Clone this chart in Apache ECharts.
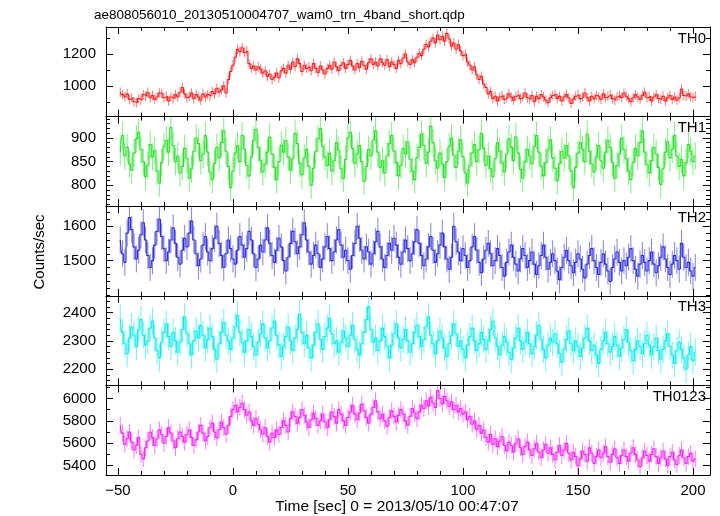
<!DOCTYPE html>
<html>
<head>
<meta charset="utf-8">
<script src="https://cdn.jsdelivr.net/npm/echarts@6/dist/echarts.min.js"></script>
<style>html,body{margin:0;padding:0;background:#fff}#c{width:720px;height:516px}</style>
</head>
<body>
<div id="c"></div>
<script>
// ---- data (1 s bins, first bin centre at t = -49 s) ----
const binStart = -49;
const binWidth = 1;
const bandNames = ['TH0', 'TH1', 'TH2', 'TH3', 'TH0123'];
const th0 = [
960,945,930,950,915,925,900,895,920,910,
945,935,960,925,940,915,930,955,950,925,
935,905,930,920,945,930,960,990,950,925,
935,955,920,945,930,910,950,930,945,935,
965,950,985,960,975,1000,955,1040,1090,1130,
1180,1230,1215,1240,1210,1220,1140,1110,1125,1100,
1120,1105,1080,1095,1060,1075,1040,1055,1080,1050,
1095,1110,1080,1130,1105,1150,1120,1170,1140,1090,
1130,1110,1120,1095,1140,1110,1085,1125,1100,1075,
1110,1130,1105,1150,1120,1095,1130,1145,1110,1135,
1160,1125,1100,1140,1115,1155,1130,1105,1145,1170,
1135,1150,1125,1170,1145,1130,1165,1120,1150,1135,
1110,1160,1140,1175,1200,1150,1135,1165,1145,1180,
1205,1190,1230,1260,1245,1280,1300,1270,1320,1290,
1310,1280,1330,1295,1250,1270,1230,1260,1220,1190,
1200,1150,1130,1100,1120,1070,1040,1060,1010,990,
950,965,920,935,905,930,940,915,925,950,
930,910,935,945,920,930,955,925,915,940,
900,935,920,945,930,910,895,925,940,950,
920,935,905,930,945,925,890,915,935,945,
920,930,955,925,905,935,920,940,930,915,
950,925,935,945,920,910,930,940,925,955,
935,920,900,925,945,930,915,940,960,925,
935,905,930,945,920,915,935,905,925,940,
915,930,910,925,980,940,935,950,930,925,
935];
const th1 = [
870,905,862,880,845,832,868,898,912,875,
850,818,842,886,860,874,830,805,848,882,
895,870,922,884,850,862,826,840,878,856,
815,835,872,900,888,852,866,905,870,828,
812,846,880,858,890,915,872,840,795,830,
868,884,850,905,876,842,820,860,895,918,
880,852,828,845,870,902,866,838,812,850,
885,870,894,860,832,856,910,888,846,822,
858,876,840,800,836,872,898,920,882,860,
842,868,830,852,890,874,835,815,855,900,
912,878,846,866,884,850,808,840,876,862,
895,915,870,838,852,826,862,888,905,872,
848,820,842,878,866,892,855,830,812,858,
880,908,884,846,870,925,890,852,836,868,
845,816,850,882,900,864,838,872,896,860,
826,805,842,868,886,850,875,910,878,842,
862,835,818,856,890,872,848,828,866,898,
880,852,902,868,834,815,850,876,862,845,
882,905,870,840,820,848,876,896,858,836,
810,846,872,858,884,862,830,795,838,868,
890,876,850,908,872,845,828,860,884,852,
836,870,895,880,848,815,842,866,900,875,
856,830,812,848,878,862,890,915,870,844,
826,852,880,866,838,802,835,870,892,858,
876,905,862,840,855,820,848,886,872,850,
862];
const th2 = [
1560,1520,1495,1580,1625,1590,1540,1505,1530,1575,
1610,1560,1515,1480,1500,1545,1585,1620,1570,1535,
1500,1525,1560,1595,1550,1510,1490,1530,1565,1540,
1580,1615,1560,1520,1485,1505,1545,1570,1525,1500,
1535,1565,1600,1550,1515,1480,1520,1560,1535,1505,
1490,1530,1570,1545,1510,1535,1585,1560,1520,1480,
1505,1545,1525,1560,1595,1550,1515,1495,1530,1565,
1540,1500,1470,1510,1550,1585,1555,1520,1540,1575,
1610,1560,1525,1490,1515,1545,1520,1480,1505,1540,
1570,1535,1500,1525,1560,1590,1545,1510,1530,1500,
1475,1515,1550,1600,1565,1530,1505,1540,1525,1490,
1520,1555,1585,1540,1505,1480,1515,1550,1530,1565,
1545,1510,1490,1525,1560,1535,1500,1520,1555,1590,
1550,1515,1485,1505,1540,1570,1530,1495,1520,1545,
1580,1540,1505,1475,1510,1600,1555,1525,1500,1535,
1515,1480,1500,1540,1570,1530,1495,1465,1505,1530,
1550,1520,1485,1500,1535,1515,1480,1455,1495,1525,
1545,1510,1490,1470,1505,1535,1515,1480,1500,1525,
1490,1460,1485,1515,1545,1510,1475,1495,1520,1500,
1470,1445,1480,1510,1530,1500,1485,1465,1495,1520,
1505,1475,1450,1490,1515,1535,1500,1480,1460,1495,
1520,1490,1470,1440,1480,1505,1525,1495,1470,1500,
1485,1510,1535,1500,1475,1455,1490,1515,1495,1470,
1500,1525,1490,1465,1485,1510,1540,1505,1480,1460,
1490,1515,1500,1475,1550,1510,1480,1495,1470,1455,
1480];
const th3 = [
2380,2330,2290,2255,2310,2350,2320,2280,2340,2375,
2320,2285,2300,2345,2370,2310,2265,2240,2295,2330,
2360,2315,2280,2330,2300,2260,2295,2340,2385,2325,
2290,2250,2300,2335,2310,2355,2320,2275,2305,2345,
2315,2270,2235,2290,2330,2365,2320,2300,2270,2310,
2350,2390,2330,2295,2260,2300,2340,2315,2280,2250,
2295,2325,2360,2310,2275,2300,2345,2370,2320,2285,
2245,2280,2315,2350,2300,2265,2310,2340,2395,2330,
2290,2320,2275,2240,2285,2330,2360,2305,2270,2315,
2345,2380,2325,2290,2300,2260,2295,2335,2310,2280,
2320,2355,2305,2270,2250,2290,2330,2375,2420,2340,
2295,2310,2265,2300,2345,2315,2280,2240,2285,2325,
2360,2310,2275,2305,2340,2300,2260,2290,2330,2355,
2315,2280,2305,2350,2385,2320,2290,2255,2300,2335,
2310,2275,2245,2290,2320,2360,2325,2280,2300,2270,
2240,2285,2315,2345,2300,2265,2290,2330,2305,2270,
2300,2340,2370,2310,2280,2250,2285,2315,2295,2260,
2235,2275,2310,2345,2300,2270,2295,2330,2290,2255,
2280,2320,2355,2305,2270,2240,2285,2310,2295,2325,
2290,2255,2225,2270,2305,2335,2290,2265,2300,2280,
2245,2275,2310,2345,2300,2265,2285,2250,2220,2270,
2300,2330,2290,2260,2280,2315,2285,2245,2275,2305,
2340,2295,2265,2230,2270,2300,2280,2255,2290,2320,
2285,2250,2280,2310,2265,2235,2270,2300,2325,2280,
2250,2220,2265,2295,2270,2240,2200,2250,2280,2230,
2260];
const th0123 = [
5760,5690,5590,5640,5700,5610,5540,5580,5650,5500,
5460,5560,5620,5700,5650,5580,5640,5720,5680,5600,
5660,5740,5690,5620,5560,5640,5700,5660,5610,5680,
5720,5650,5580,5630,5700,5760,5690,5620,5660,5740,
5780,5700,5650,5720,5790,5740,5680,5760,5840,5900,
5940,5880,5920,5960,5900,5850,5880,5800,5760,5820,
5770,5720,5680,5740,5660,5610,5690,5650,5720,5680,
5740,5800,5760,5700,5820,5880,5840,5780,5830,5900,
5850,5790,5740,5810,5870,5820,5760,5800,5860,5790,
5740,5810,5880,5840,5780,5900,5860,5800,5760,5830,
5880,5940,5860,5810,5870,5950,5890,5830,5780,5860,
5920,5980,5880,5820,5860,5800,5750,5830,5890,5840,
5790,5850,5900,5860,5800,5760,5840,5910,5870,5820,
5880,5940,5910,5980,5930,6010,5960,5920,6070,6000,
5950,6020,5980,5930,5970,5900,5940,5880,5910,5860,
5880,5810,5840,5770,5800,5720,5760,5690,5720,5650,
5610,5680,5590,5640,5570,5620,5660,5580,5530,5610,
5580,5520,5600,5640,5560,5500,5570,5610,5540,5490,
5550,5600,5520,5470,5540,5590,5510,5560,5500,5450,
5520,5580,5490,5540,5600,5510,5450,5520,5480,5400,
5460,5530,5500,5440,5560,5510,5420,5480,5540,5470,
5510,5570,5480,5430,5500,5550,5470,5420,5490,5540,
5480,5440,5510,5560,5500,5450,5390,5470,5530,5490,
5440,5500,5550,5480,5420,5470,5530,5460,5400,5480,
5520,5450,5410,5490,5540,5470,5420,5480,5510,5440,
5460];
const bandValues = [th0, th1, th2, th3, th0123];
const bandErrors = [30, 29, 39, 48, 75];      // typical 1-sigma error bar half-length
const yMins = [807, 756, 1398, 2143, 5316];
const yMaxs = [1370, 945, 1658, 2459, 6117];
const yLabelTicks = [[1000, 1200], [800, 850, 900], [1500, 1600], [2200, 2300, 2400], [5400, 5600, 5800, 6000]];
const yMinorStep = [100, 10, 20, 20, 100];
const xMin = -55.2, xMax = 207.4;
const xLabelTicks = [-50, 0, 50, 100, 150, 200];
const xMinorStep = 10;
const titleText = 'ae808056010_20130510004707_wam0_trn_4band_short.qdp';
const xTitle = 'Time [sec] 0 = 2013/05/10 00:47:07';
const yTitle = 'Counts/sec';
const colors = ['#ff1a1a', '#22e622', '#2a2ae6', '#00f0f0', '#ff1aff'];

// ---- layout ----
const FONT = 'Liberation Sans, Arial, Helvetica, sans-serif';
const gLeft = 106, gRight = 10, gTop = 27, gBottom = 475;
const H = (gBottom - gTop) / 5;

function range(a, b, s) { const r = []; for (let v = Math.ceil(a / s) * s; v <= b + 1e-9; v += s) r.push(Math.round(v * 1000) / 1000); return r; }
const xMinorTicks = range(xMin, xMax, xMinorStep);

const grids = [], xAxes = [], yAxes = [], series = [], graphics = [];
const axisLine = { show: true, onZero: false, lineStyle: { color: '#000', width: 1 } };
const noLine = { show: false, onZero: false };
const tick = (vals, len) => ({ show: true, inside: true, length: len, customValues: vals, lineStyle: { color: '#000', width: 1 } });

bandNames.forEach((name, k) => {
  grids.push({ left: gLeft, right: gRight, top: gTop + k * H, height: H });
  const xBase = { gridIndex: k, type: 'value', min: xMin, max: xMax, splitLine: { show: false } };
  xAxes.push(Object.assign({}, xBase, {
    position: 'bottom', axisLine, axisTick: tick(xLabelTicks, 7),
    axisLabel: { show: k === 4, customValues: xLabelTicks, margin: 8, color: '#000', fontSize: 15, fontFamily: FONT,
      formatter: v => (v < 0 ? '\u2212' + Math.abs(v) : String(v)) }
  }));
  const dataX = xAxes.length - 1;
  xAxes.push(Object.assign({}, xBase, { position: 'bottom', axisLine: noLine, axisTick: tick(xMinorTicks, 4), axisLabel: { show: false } }));
  xAxes.push(Object.assign({}, xBase, { position: 'top', axisLine, axisTick: tick(xLabelTicks, 7), axisLabel: { show: false } }));
  xAxes.push(Object.assign({}, xBase, { position: 'top', axisLine: noLine, axisTick: tick(xMinorTicks, 4), axisLabel: { show: false } }));

  const yMinor = range(yMins[k], yMaxs[k], yMinorStep[k]);
  const yBase = { gridIndex: k, type: 'value', min: yMins[k], max: yMaxs[k], splitLine: { show: false } };
  yAxes.push(Object.assign({}, yBase, { position: 'left', axisLine, axisTick: tick(yLabelTicks[k], 7),
    axisLabel: { show: true, customValues: yLabelTicks[k], margin: 10, color: '#000', fontSize: 15, fontFamily: FONT,
      formatter: v => String(v) } }));
  const dataY = yAxes.length - 1;
  yAxes.push(Object.assign({}, yBase, { position: 'left', axisLine: noLine, axisTick: tick(yMinor, 4), axisLabel: { show: false } }));
  yAxes.push(Object.assign({}, yBase, { position: 'right', axisLine, axisTick: tick(yLabelTicks[k], 7), axisLabel: { show: false } }));
  yAxes.push(Object.assign({}, yBase, { position: 'right', axisLine: noLine, axisTick: tick(yMinor, 4), axisLabel: { show: false } }));

  const vals = bandValues[k];
  const err = bandErrors[k];
  const pts = vals.map((v, i) => [binStart + i * binWidth, v, err]);
  const col = colors[k];
  series.push({
    type: 'custom', xAxisIndex: dataX, yAxisIndex: dataY, clip: true, silent: true,
    data: pts,
    renderItem: (params, api) => {
      const t = api.value(0), v = api.value(1), e = api.value(2);
      const a = api.coord([t, v + e]), b = api.coord([t, v - e]);
      return { type: 'line', shape: { x1: a[0], y1: a[1], x2: b[0], y2: b[1] },
        style: { stroke: col, lineWidth: 1, opacity: 0.6 } };
    }
  });
  series.push({
    type: 'line', xAxisIndex: dataX, yAxisIndex: dataY, step: 'middle', showSymbol: false, symbol: 'none',
    silent: true, clip: true,
    data: pts.map(p => [p[0], p[1]]),
    lineStyle: { color: col, width: 1.1 }
  });
  graphics.push({ type: 'text', right: 720 - 706, top: gTop + k * H + 4,
    style: { text: name, font: '15px ' + FONT, fill: '#000' } });
});

graphics.push({ type: 'text', left: 94, top: 8, style: { text: titleText, font: '13.5px ' + FONT, fill: '#000' } });
graphics.push({ type: 'text', x: 397, y: 507,
  style: { text: xTitle, font: '15.5px ' + FONT, fill: '#000', textAlign: 'center', textVerticalAlign: 'middle' } });
graphics.push({ type: 'text', rotation: Math.PI / 2, x: 40, y: 252,
  style: { text: yTitle, font: '15px ' + FONT, fill: '#000', textAlign: 'center', textVerticalAlign: 'middle' } });

const chart = echarts.init(document.getElementById('c'), null, { renderer: 'canvas' });
chart.setOption({
  animation: false,
  backgroundColor: '#fff',
  grid: grids, xAxis: xAxes, yAxis: yAxes, series: series, graphic: graphics
});
</script>
</body>
</html>
